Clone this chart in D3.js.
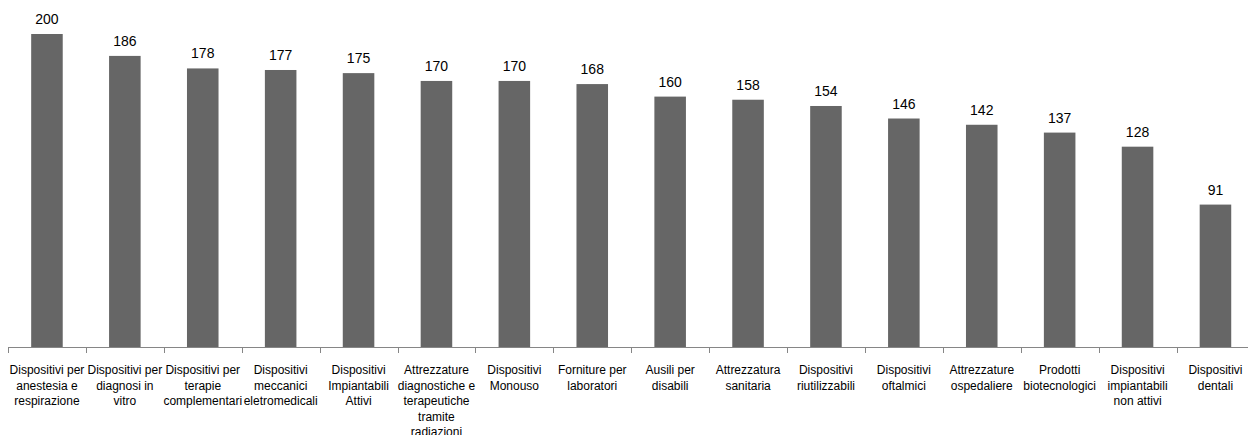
<!DOCTYPE html>
<html>
<head>
<meta charset="utf-8">
<script src="https://cdn.jsdelivr.net/npm/d3@7"></script>
<style>
  html, body { margin: 0; padding: 0; background: #fff; }
  svg { display: block; font-family: "Liberation Sans", Arial, sans-serif; }
</style>
</head>
<body>
<svg id="chart" width="1248" height="435"></svg>
<script>
// Category labels, already split into the lines they wrap to
const categories = [
  ["Dispositivi per", "anestesia e", "respirazione"],
  ["Dispositivi per", "diagnosi in", "vitro"],
  ["Dispositivi per", "terapie", "complementari"],
  ["Dispositivi", "meccanici", "eletromedicali"],
  ["Dispositivi", "Impiantabili", "Attivi"],
  ["Attrezzature", "diagnostiche e", "terapeutiche", "tramite", "radiazioni"],
  ["Dispositivi", "Monouso"],
  ["Forniture per", "laboratori"],
  ["Ausili per", "disabili"],
  ["Attrezzatura", "sanitaria"],
  ["Dispositivi", "riutilizzabili"],
  ["Dispositivi", "oftalmici"],
  ["Attrezzature", "ospedaliere"],
  ["Prodotti", "biotecnologici"],
  ["Dispositivi", "impiantabili", "non attivi"],
  ["Dispositivi", "dentali"]
];
const values = [200, 186, 178, 177, 175, 170, 170, 168, 160, 158, 154, 146, 142, 137, 128, 91];

const svg = d3.select("#chart");
const W = 1248;
const axisY = 347;
const left = 8;
const step = 77.9;

const x = d3.scaleBand()
  .domain(d3.range(values.length))
  .range([left, left + step * values.length])
  .padding(0);

const y = d3.scaleLinear()
  .domain([0, 200])
  .range([axisY, 34]);

const barW = x.bandwidth() * 0.405;

// Bars
svg.append("g").selectAll("rect")
  .data(values)
  .join("rect")
  .attr("x", (d, i) => x(i) + (x.bandwidth() - barW) / 2)
  .attr("y", d => y(d))
  .attr("width", barW)
  .attr("height", d => axisY - y(d))
  .attr("fill", "#666666");

// Value labels above each bar
svg.append("g").selectAll("text")
  .data(values)
  .join("text")
  .attr("x", (d, i) => x(i) + x.bandwidth() / 2)
  .attr("y", d => y(d) - 10)
  .attr("text-anchor", "middle")
  .attr("font-size", 14)
  .attr("fill", "#000")
  .text(d => d);

// Category axis line and boundary ticks
const axisG = svg.append("g");
axisG.append("line")
  .attr("x1", left).attr("x2", W)
  .attr("y1", axisY + 0.5).attr("y2", axisY + 0.5)
  .attr("stroke", "#868686").attr("stroke-width", 1);
axisG.selectAll("line.tick")
  .data(d3.range(values.length + 1))
  .join("line")
  .attr("class", "tick")
  .attr("x1", i => Math.round(left + i * step) + 0.5)
  .attr("x2", i => Math.round(left + i * step) + 0.5)
  .attr("y1", axisY)
  .attr("y2", axisY + 6)
  .attr("stroke", "#868686").attr("stroke-width", 1);

// Wrapped category labels
const lab = svg.append("g").selectAll("text")
  .data(categories)
  .join("text")
  .attr("text-anchor", "middle")
  .attr("font-size", 12)
  .attr("fill", "#000")
  .attr("transform", (d, i) => `translate(${x(i) + x.bandwidth() / 2},${374})`);
lab.selectAll("tspan")
  .data(d => d)
  .join("tspan")
  .attr("x", 0)
  .attr("y", (d, j) => j * 15.5)
  .text(d => d);
</script>
</body>
</html>
